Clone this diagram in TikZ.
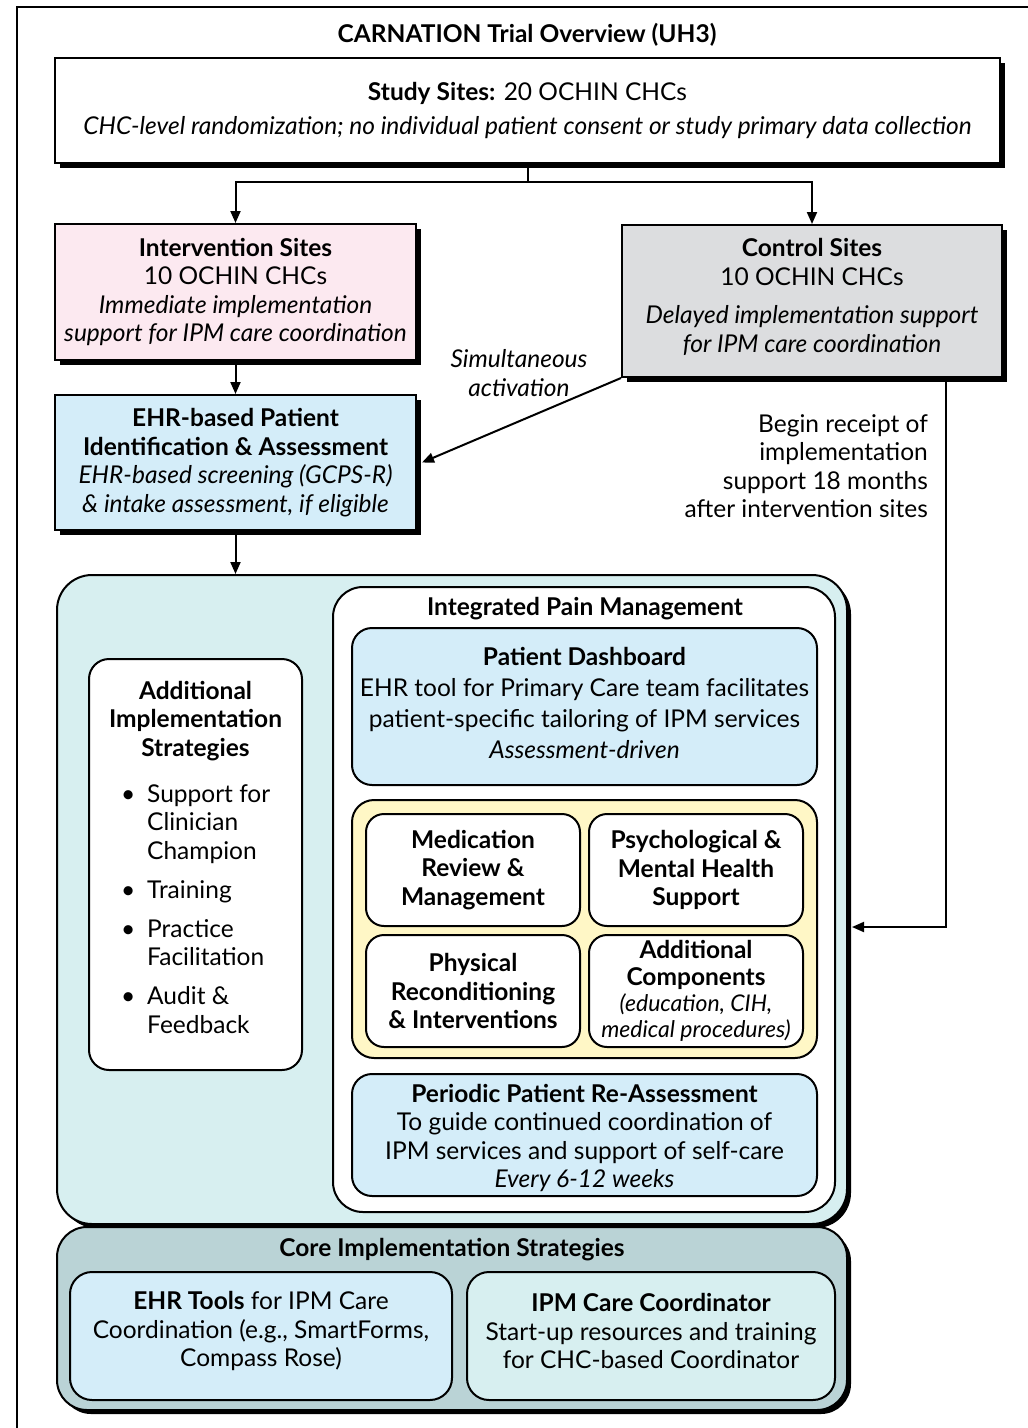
\documentclass[tikz,border=0pt]{standalone}
\usepackage{fontspec}
\setmainfont{Lato}
\usetikzlibrary{arrows.meta,shadows}

\definecolor{pinkfill}{HTML}{FCE9F0}
\definecolor{greyfill}{HTML}{DCDDDF}
\definecolor{bluefill}{HTML}{D4EDF9}
\definecolor{tealfill}{HTML}{D7EFF0}
\definecolor{yellowfill}{HTML}{FFF7C6}
\definecolor{corefill}{HTML}{BAD3D6}

\newcommand{\smallit}{\fontsize{23}{26.3}\selectfont\itshape}

\begin{document}
\begin{tikzpicture}[x=1pt,y=-1pt,
  base/.style={font=\fontsize{24.5}{28.5}\selectfont, align=center, inner sep=0pt},
  heading/.style={base, font=\fontsize{24.5}{28.5}\selectfont\bfseries},
  box/.style={base, draw, line width=2pt},
  sbox/.style={box, general shadow={shadow xshift=5pt, shadow yshift=-5pt, fill=black}},
  tbox/.style={box, general shadow={shadow xshift=4pt, shadow yshift=-4pt, fill=black}},
  line/.style={line width=2pt},
  arrow/.style={line width=2pt, -{Triangle[length=12pt,width=10pt]}},
]
\useasboundingbox (0,0) rectangle (1028,1428);

% outer frame
\draw[line] (17,1440) -- (17,7) -- (1030,7);

\node[heading] (title) at (527,35) {CARNATION Trial Overview (UH3)};

% randomisation
\node[sbox, fill=white, minimum width=945pt, minimum height=105pt] (study) at (527.5,110.5)
  {\textbf{Study Sites:} 20 OCHIN CHCs\\[5pt]
   \textit{CHC-level randomization; no individual patient consent or study primary data collection}};

\node[sbox, fill=pinkfill, minimum width=361pt, minimum height=136pt] (inter) at (235.5,292)
  {\textbf{Intervention Sites}\\10 OCHIN CHCs\\\textit{Immediate implementation}\\\textit{support for IPM care coordination}};

\node[sbox, fill=greyfill, minimum width=380pt, minimum height=152pt] (ctrl) at (812,301) {};
\node[base] (ctrltext) at (812,297)
  {\textbf{Control Sites}\\10 OCHIN CHCs\\[10pt]\textit{Delayed implementation support}\\\textit{for IPM care coordination}};

\node[sbox, fill=bluefill, minimum width=361pt, minimum height=135pt] (ehr) at (235.5,462.5)
  {\textbf{EHR-based Patient}\\\textbf{Identification \& Assessment}\\\textit{EHR-based screening (GCPS-R)}\\\textit{\& intake assessment, if eligible}};

\coordinate (split) at (527.5,182);
\draw[line] (study.south) -- (split);
\draw[arrow] (split) -| (inter.north);
\draw[arrow] (split) -| (ctrl.north);
\draw[arrow] (inter.south) -- (ehr.north);
\draw[arrow] (ctrl.south west) -- ([xshift=5pt]ehr.east);
\node[base, font=\fontsize{24.5}{28.5}\selectfont\itshape] (simlabel) at (519,373) {Simultaneous\\activation};

% integrated pain management block
\node[tbox, fill=tealfill, rounded corners=35pt, minimum width=790pt, minimum height=649pt] (teal) at (452,899.5) {};

\coordinate (turn) at (946,927);
\draw[arrow] (ctrl.south -| turn) -- (turn) -- ([xshift=4pt]teal.east |- turn);
\node[base, align=right, anchor=east] (delaylabel) at (928,466)
  {Begin receipt of\\implementation\\support 18 months\\after intervention sites};

\draw[arrow] (ehr.south) -- (ehr.south |- teal.north);

\node[box, fill=white, rounded corners=20pt, minimum width=213pt, minimum height=411pt] (addl) at (195.5,864.5) {};
\node[heading] (addltitle) at (195.5,721)
  {Additional\\Implementation\\Strategies};
\node[base, align=left, anchor=base west] (addllist) at (121,802)
  {\begin{tabular}[t]{@{}l@{}l@{}}
   \makebox[26pt][l]{\textbullet} & Support for\\ & Clinician\\ & Champion\\[10.5pt]
   \textbullet & Training\\[10.5pt]
   \textbullet & Practice\\ & Facilitation\\[10.5pt]
   \textbullet & Audit \&\\ & Feedback
   \end{tabular}};

\node[box, fill=white, rounded corners=30pt, minimum width=502pt, minimum height=625pt] (ipm) at (584,899.5) {};
\node[heading] (ipmtitle) at (585,609) {Integrated Pain Management};

\node[box, fill=bluefill, rounded corners=20pt, minimum width=465pt, minimum height=157pt] (dash) at (584.5,706.5) {};
\node[base, font=\fontsize{24.5}{31}\selectfont] (dashtext) at (584.5,703)
  {\textbf{Patient Dashboard}\\EHR tool for Primary Care team facilitates\\patient-specific tailoring of IPM services\\\textit{Assessment-driven}};

\node[box, fill=yellowfill, rounded corners=22pt, minimum width=465pt, minimum height=258pt] (comp) at (584.5,929) {};
\node[box, fill=white, rounded corners=18pt, minimum width=214pt, minimum height=112pt] (med) at (473,870)
  {\bfseries Medication\\\bfseries Review \&\\\bfseries Management};
\node[box, fill=white, rounded corners=18pt, minimum width=214pt, minimum height=112pt] (psych) at (696,870)
  {\bfseries Psychological \&\\\bfseries Mental Health\\\bfseries Support};
\node[box, fill=white, rounded corners=18pt, minimum width=214pt, minimum height=112pt] (phys) at (473,991)
  {\bfseries Physical\\\bfseries Reconditioning\\\bfseries \& Interventions};
\node[box, fill=white, rounded corners=18pt, minimum width=214pt, minimum height=112pt] (other) at (696,991) {};
\node[base, font=\fontsize{24.5}{26.3}\selectfont] (othertext) at (696,991)
  {\bfseries Additional\\\bfseries Components\\
   \smallit (education, CIH,\\\smallit medical procedures)};

\node[box, fill=bluefill, rounded corners=20pt, minimum width=465pt, minimum height=122pt] (reassess) at (584.5,1135) {};
\node[base] (reassesstext) at (584.5,1138)
  {\textbf{Periodic Patient Re-Assessment}\\To guide continued coordination of\\IPM services and support of self-care\\\textit{Every 6-12 weeks}};

% core implementation strategies
\node[tbox, fill=corefill, rounded corners=30pt, minimum width=790pt, minimum height=183pt] (core) at (452,1318.5) {};
\node[heading] (coretitle) at (452,1250) {Core Implementation Strategies};
\node[box, fill=bluefill, rounded corners=22pt, minimum width=382pt, minimum height=128pt] (tools) at (261,1336) {};
\node[base] (toolstext) at (261,1331)
  {\textbf{EHR Tools} for IPM Care\\Coordination (e.g., SmartForms,\\Compass Rose)};
\node[box, fill=tealfill, rounded corners=22pt, minimum width=368pt, minimum height=128pt] (coord) at (651,1336) {};
\node[base] (coordtext) at (651,1331)
  {\textbf{IPM Care Coordinator}\\Start-up resources and training\\for CHC-based Coordinator};
\end{tikzpicture}
\end{document}
